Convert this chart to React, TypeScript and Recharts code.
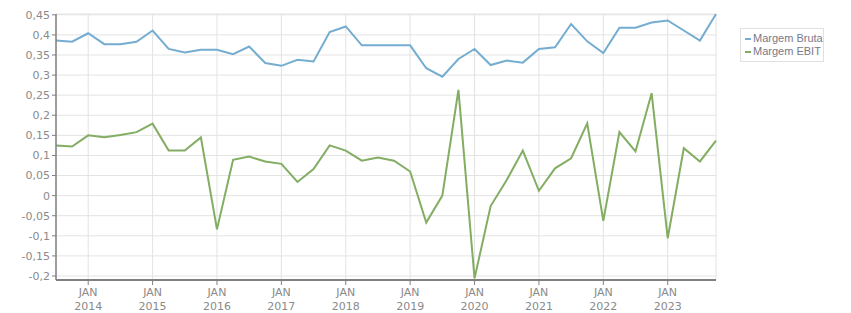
import { LineChart, Line, XAxis, YAxis, CartesianGrid } from "recharts";

// quarterly, Jul 2013 .. Oct 2023
const quarters: string[] = [];
for (let y = 2013; y <= 2023; y++) {
  for (const m of ["JAN", "ABR", "JUL", "OUT"]) {
    if (y === 2013 && (m === "JAN" || m === "ABR")) continue;
    quarters.push(`${m} ${y}`);
  }
}

const margemBruta = [
  0.386, 0.383, 0.404, 0.377, 0.377, 0.383, 0.411, 0.365, 0.356, 0.363,
  0.363, 0.352, 0.371, 0.33, 0.323, 0.338, 0.334, 0.407, 0.421, 0.374,
  0.374, 0.374, 0.374, 0.317, 0.296, 0.34, 0.365, 0.325, 0.336, 0.331,
  0.365, 0.369, 0.427, 0.384, 0.355, 0.418, 0.418, 0.431, 0.436, 0.411,
  0.386, 0.452,
];

const margemEbit = [
  0.125, 0.122, 0.15, 0.145, 0.151, 0.158, 0.179, 0.112, 0.112, 0.145,
  -0.084, 0.089, 0.097, 0.085, 0.079, 0.034, 0.066, 0.125, 0.112, 0.087,
  0.095, 0.087, 0.06, -0.067, 0.0, 0.263, -0.206, -0.026, 0.039, 0.112,
  0.012, 0.068, 0.093, 0.18, -0.063, 0.158, 0.11, 0.255, -0.106, 0.118,
  0.085, 0.137,
];

const yTicks = [
  -0.2, -0.15, -0.1, -0.05, 0, 0.05, 0.1, 0.15, 0.2, 0.25, 0.3, 0.35, 0.4, 0.45,
];

const data = quarters.map((q, i) => ({
  i,
  q,
  bruta: margemBruta[i],
  ebit: margemEbit[i],
}));

const xTicks = data.filter((d) => d.q.startsWith("JAN")).map((d) => d.i);

const COLORS = {
  bruta: "#74add1",
  ebit: "#82ad62",
  grid: "#e3e3e3",
  axis: "#808080",
  text: "#8a8a8a",
};

const FONT = "DejaVu Sans, Verdana, sans-serif";

function fmtY(v: number) {
  if (Math.abs(v) < 1e-9) return "0";
  return String(Math.round(v * 100) / 100).replace(".", ",");
}

function XTick(props: any) {
  const { x, y, payload } = props;
  const q = quarters[payload.value] ?? "";
  const [m, yr] = q.split(" ");
  return (
    <text
      x={x}
      y={y}
      textAnchor="middle"
      fill={COLORS.text}
      fontSize={11}
      fontFamily={FONT}
    >
      <tspan x={x} dy={9}>
        {m}
      </tspan>
      <tspan x={x} dy={14}>
        {yr}
      </tspan>
    </text>
  );
}

export default function App() {
  return (
    <div
      style={{
        position: "absolute",
        left: 0,
        top: 0,
        width: 851,
        height: 313,
        background: "#fff",
      }}
    >
      <LineChart
        width={851}
        height={313}
        data={data}
        margin={{ top: 14, right: 135, bottom: 0, left: 0 }}
      >
        <CartesianGrid stroke={COLORS.grid} strokeWidth={1} />
        <XAxis
          dataKey="i"
          type="number"
          domain={[0, quarters.length - 1]}
          ticks={xTicks}
          interval={0}
          height={33}
          stroke={COLORS.axis}
          axisLine={{ stroke: COLORS.axis, strokeWidth: 2 }}
          tickLine={{ stroke: COLORS.axis }}
          tickSize={5}
          tick={<XTick />}
        />
        <YAxis
          type="number"
          domain={[-0.21, 0.452]}
          ticks={yTicks}
          interval={0}
          width={56}
          axisLine={{ stroke: COLORS.axis, strokeWidth: 1.5 }}
          tickLine={{ stroke: COLORS.axis }}
          tickSize={4}
          tickFormatter={fmtY}
          tick={{ fill: COLORS.text, fontSize: 11, fontFamily: FONT }}
        />
        <Line
          dataKey="bruta"
          stroke={COLORS.bruta}
          strokeWidth={2}
          dot={false}
          isAnimationActive={false}
        />
        <Line
          dataKey="ebit"
          stroke={COLORS.ebit}
          strokeWidth={2}
          dot={false}
          isAnimationActive={false}
        />
      </LineChart>
      <div
        style={{
          position: "absolute",
          left: 740,
          top: 28,
          width: 84,
          padding: "3px 0 3px 4px",
          border: "1px solid #e0e0e0",
          fontFamily: "Liberation Sans, Arial, sans-serif",
          fontSize: 11,
          color: "#777a88",
          lineHeight: "13px",
          boxSizing: "border-box",
        }}
      >
        {[
          { name: "Margem Bruta", color: COLORS.bruta },
          { name: "Margem EBIT", color: COLORS.ebit },
        ].map((s) => (
          <div key={s.name} style={{ display: "flex", alignItems: "center", whiteSpace: "nowrap" }}>
            <span
              style={{
                display: "inline-block",
                width: 6,
                height: 2,
                background: s.color,
                marginRight: 2,
              }}
            />
            {s.name}
          </div>
        ))}
      </div>
    </div>
  );
}
